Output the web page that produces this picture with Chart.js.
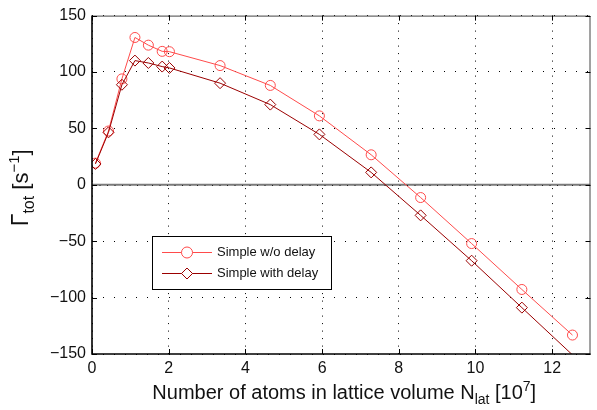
<!DOCTYPE html>
<html><head><meta charset="utf-8">
<script src="https://cdn.jsdelivr.net/npm/chart.js@4/dist/chart.umd.min.js"></script>
<style>html,body{margin:0;padding:0;background:#fff;}#wrap{width:597px;height:410px;}</style>
</head><body><div id="wrap"><canvas id="c" width="597" height="410"></canvas></div>
<script>
// ---- data ----
const atomsN       = [0.09, 0.43, 0.78, 1.12, 1.47, 1.83, 2.02, 3.34, 4.65, 5.93, 7.28, 8.57, 9.90, 11.21, 12.53];
const gammaNoDelay = [19.2, 47.7, 93.9, 130.6, 123.8, 118.3, 118.0, 105.7, 88.1, 61.1, 26.6, -11.3, -52.1, -92.8, -133.2];
const gammaDelay   = [18.5, 46.5, 88.7, 110.1, 108.0, 104.8, 103.6, 90.1, 71.1, 44.7, 11.0, -27.1, -67.3, -108.9, -150.8];
const seriesNames  = ['Simple w/o delay', 'Simple with delay'];
const xTicks = [0, 2, 4, 6, 8, 10, 12];
const yTicks = [-150, -100, -50, 0, 50, 100, 150];
const xRange = [0, 13];
const yRange = [-150, 150];
const zeroLine = [0, 0];

const FONT = '"Liberation Sans", Arial, Helvetica, sans-serif';
const RED = '#ff4b4b';
const DARK = '#9b0000';
const fmt = v => (v < 0 ? '\u2212' + Math.abs(v) : String(v));

function richWidth(ctx, parts) {
  let w = 0;
  for (const p of parts) { ctx.font = p.size + 'px ' + FONT; w += ctx.measureText(p.t).width; }
  return w;
}
function drawRich(ctx, parts, cx, y) {
  let x = cx - richWidth(ctx, parts) / 2;
  ctx.textAlign = 'left';
  ctx.textBaseline = 'alphabetic';
  for (const p of parts) {
    ctx.font = p.size + 'px ' + FONT;
    ctx.fillText(p.t, x, y + (p.dy || 0));
    x += ctx.measureText(p.t).width;
  }
}

const decor = {
  id: 'decor',
  afterDatasetsDraw(chart) {
    const ctx = chart.ctx, a = chart.chartArea, ys = chart.scales.y;
    const py = Math.round(ys.getPixelForValue(0)) + 0.5;
    ctx.save();
    ctx.strokeStyle = '#222';
    ctx.lineWidth = 1;
    ctx.setLineDash([1, 6.5]);
    ctx.beginPath(); ctx.moveTo(a.left, py); ctx.lineTo(a.right, py); ctx.stroke();
    ctx.restore();
  },
  afterDraw(chart) {
    const ctx = chart.ctx, a = chart.chartArea;
    const xs = chart.scales.x, ys = chart.scales.y;
    ctx.save();
    ctx.lineWidth = 1;
    ctx.strokeStyle = '#444';
    ctx.beginPath();
    ctx.moveTo(a.left, a.top + 0.5); ctx.lineTo(a.right - 0.5, a.top + 0.5); ctx.lineTo(a.right - 0.5, a.bottom);
    ctx.stroke();
    ctx.strokeStyle = '#000';
    ctx.lineWidth = 1.6;
    ctx.beginPath();
    ctx.moveTo(a.left, a.top); ctx.lineTo(a.left, a.bottom); ctx.lineTo(a.right, a.bottom);
    ctx.stroke();
    ctx.lineWidth = 1;
    ctx.beginPath();
    for (const v of xTicks) {
      const px = Math.round(xs.getPixelForValue(v)) + 0.5;
      ctx.moveTo(px, a.bottom); ctx.lineTo(px, a.bottom - 5);
      ctx.moveTo(px, a.top); ctx.lineTo(px, a.top + 5);
    }
    for (const v of yTicks) {
      const py = Math.round(ys.getPixelForValue(v)) + 0.5;
      ctx.moveTo(a.left, py); ctx.lineTo(a.left + 5, py);
      ctx.moveTo(a.right, py); ctx.lineTo(a.right - 5, py);
    }
    ctx.stroke();

    const lx = 152.5, ly = 236.5, lw = 179, lh = 53;
    ctx.fillStyle = '#fff';
    ctx.fillRect(lx, ly, lw, lh);
    ctx.strokeStyle = '#000';
    ctx.lineWidth = 1;
    ctx.strokeRect(lx, ly, lw, lh);
    const rows = [
      { name: seriesNames[0], color: RED, style: 'circle', y: 252.5 },
      { name: seriesNames[1], color: DARK, style: 'rectRot', y: 273.5 }
    ];
    for (const r of rows) {
      ctx.strokeStyle = r.color;
      ctx.lineWidth = 1;
      ctx.beginPath(); ctx.moveTo(162, r.y); ctx.lineTo(212, r.y); ctx.stroke();
      ctx.fillStyle = '#fff';
      Chart.helpers.drawPoint(ctx, { pointStyle: r.style, radius: 5.5, rotation: 0, borderWidth: 1 }, 187, r.y);
      ctx.fillStyle = '#111';
      ctx.font = '13px ' + FONT;
      ctx.textAlign = 'left';
      ctx.textBaseline = 'middle';
      ctx.fillText(r.name, 217, r.y);
    }

    ctx.fillStyle = '#111';
    drawRich(ctx, [
      { t: 'Number of atoms in lattice volume N', size: 20 },
      { t: 'lat', size: 14, dy: 5 },
      { t: ' [10', size: 20 },
      { t: '7', size: 14, dy: -8 },
      { t: ']', size: 20 }
    ], (a.left + a.right) / 2 + 3, 399);
    ctx.translate(28, (a.top + a.bottom) / 2 + 3);
    ctx.rotate(-Math.PI / 2);
    drawRich(ctx, [
      { t: '\u0393', size: 23 },
      { t: 'tot', size: 16, dy: 6 },
      { t: ' [s', size: 22 },
      { t: '\u22121', size: 15, dy: -9 },
      { t: ']', size: 22 }
    ], 0, 0);
    ctx.restore();
  }
};

new Chart(document.getElementById('c'), {
  type: 'line',
  data: {
    datasets: [
      {
        label: seriesNames[0],
        data: atomsN.map((x, i) => ({ x, y: gammaNoDelay[i] })),
        borderColor: RED, borderWidth: 1, backgroundColor: 'rgba(0,0,0,0)',
        pointStyle: 'circle', pointRadius: 5, pointBorderWidth: 1,
        pointBorderColor: RED, pointBackgroundColor: 'rgba(0,0,0,0)',
        tension: 0, order: 2
      },
      {
        label: seriesNames[1],
        data: atomsN.map((x, i) => ({ x, y: gammaDelay[i] })),
        borderColor: DARK, borderWidth: 1, backgroundColor: 'rgba(0,0,0,0)',
        pointStyle: 'rectRot',
        pointRadius: c => (c.raw && c.raw.y < yRange[0] ? 0 : 5.5),
        pointBorderWidth: 1,
        pointBorderColor: DARK, pointBackgroundColor: 'rgba(0,0,0,0)',
        tension: 0, order: 1, clip: 0
      },
      {
        label: 'zero',
        data: xRange.map((x, i) => ({ x, y: zeroLine[i] })),
        borderColor: '#7a7a7a', borderWidth: 2, pointRadius: 0,
        tension: 0, order: 10
      }
    ]
  },
  options: {
    responsive: false,
    animation: false,
    devicePixelRatio: 1,
    layout: { padding: { top: 13, right: 1, left: 0, bottom: 0 } },
    plugins: { legend: { display: false }, tooltip: { enabled: false } },
    scales: {
      x: {
        type: 'linear', min: xRange[0], max: xRange[1],
        afterBuildTicks: s => { s.ticks = xTicks.map(v => ({ value: v })); },
        afterFit: s => { s.height = 56; },
        ticks: { color: '#111', font: { family: FONT, size: 16 }, padding: 5, callback: v => fmt(v), maxRotation: 0, autoSkip: false },
        grid: { color: '#000', lineWidth: 1, drawTicks: false },
        border: { display: false, dash: [1, 6.5] }
      },
      y: {
        type: 'linear', min: yRange[0], max: yRange[1],
        afterBuildTicks: s => { s.ticks = yTicks.map(v => ({ value: v })); },
        afterFit: s => { s.width = 92; },
        ticks: { color: '#111', font: { family: FONT, size: 16 }, padding: 6, callback: v => fmt(v), autoSkip: false },
        grid: { color: '#000', lineWidth: 1, drawTicks: false },
        border: { display: false, dash: [1, 10] }
      }
    }
  },
  plugins: [decor]
});
</script>
</body></html>
